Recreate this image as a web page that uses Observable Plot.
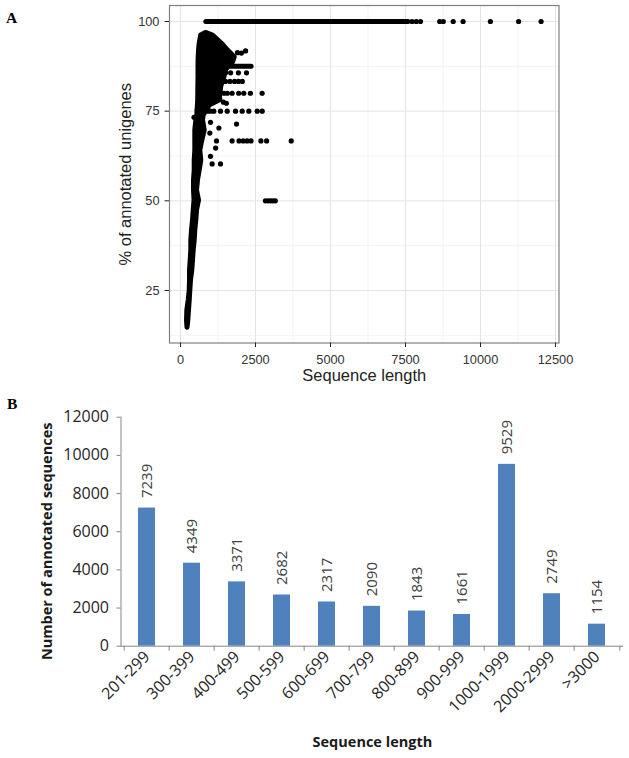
<!DOCTYPE html>
<html><head><meta charset="utf-8">
<script src="https://cdn.jsdelivr.net/npm/d3@7"></script>
<script src="https://cdn.jsdelivr.net/npm/@observablehq/plot@0.6"></script>
<style>
body{margin:0;background:#fff;}
#wrap{position:relative;width:629px;height:758px;overflow:hidden;}
#wrap svg{display:block;}
.tag{position:absolute;font-family:"Liberation Serif","Times New Roman",serif;font-weight:bold;font-size:15.5px;line-height:1;color:#000;}
</style></head><body>
<div id="wrap">
<div id="a"></div><div id="b"></div>
<span class="tag" style="left:6px;top:10px">A</span>
<span class="tag" style="left:7px;top:396px">B</span>
</div>
<script>
// ---------- Panel A data ----------
// dense cloud of overlapping points: outline at each % level (left / right point centres)
const bandY     = [96.8, 96.1, 93.8, 91.9, 90.0, 88.6, 86.6, 84.7, 81.9, 78.0, 76.6, 73.8, 72.4, 69.6, 66.8, 64.0, 61.2, 58.5, 55.7, 52.9, 50.1, 47.3, 44.5, 41.7, 38.9, 36.2, 33.4, 30.6, 27.8, 25.0, 22.2, 19.4, 16.6, 14.6];
const bandLeft  = [850, 690, 640, 617, 607, 600, 600, 600, 595, 590, 580, 560, 527, 493, 493, 493, 473, 473, 450, 450, 467, 440, 417, 383, 360, 360, 340, 317, 317, 307, 273, 227, 217, 233];
const bandRight = [850, 1083, 1383, 1583, 1807, 1750, 1530, 1470, 1360, 1300, 970, 773, 750, 807, 727, 660, 693, 640, 583, 550, 617, 550, 527, 493, 473, 440, 417, 393, 350, 327, 307, 283, 260, 233];
// unbroken rows of points
const runY  = [100, 87.5];
const runX1 = [860, 620];
const runX2 = [7600, 2370];
// separate points, grouped by % level
const dotRowY = [100, 91.8, 91.3, 91.2, 85.7, 83.3, 80, 78.4, 77.5, 77.2, 75.4, 75, 73.3, 71.9, 71.4, 70.3, 68.9, 66.7, 64.7, 62.4, 60.3, 50];
const dotRowX = [
  [7720, 7860, 8000, 8640, 8760, 9090, 9420, 10330, 11270, 12020],
  [2170], [1900], [2030],
  [1500, 1670, 1930, 2200],
  [1500, 1650, 1800, 1930, 2060],
  [1450, 1560, 1720, 1940, 2110, 2330, 2720],
  [1310], [1430], [1530],
  [560],
  [900, 1000, 1110, 1333, 1557, 1833, 2057, 2277, 2557, 2723],
  [450],
  [1000],
  [1867],
  [1280],
  [977],
  [1200, 1720, 1950, 2090, 2220, 2350, 2680, 2870, 3690],
  [1170],
  [1000],
  [1055, 1333],
  [2830, 2920, 3000, 3080, 3160]
];
const xTicksA = [0, 2500, 5000, 7500, 10000, 12500];
const yTicksA = [25, 50, 75, 100];
const xMinorA = [1250, 3750, 6250, 8750, 11250];
const yMinorA = [12.5, 37.5, 62.5, 87.5];
const xTitleA = "Sequence length";
const yTitleA = "% of annotated unigenes";

// ---------- Panel B data ----------
const categories = ["201-299", "300-399", "400-499", "500-599", "600-699", "700-799", "800-899", "900-999", "1000-1999", "2000-2999", ">3000"];
const counts = [7239, 4349, 3371, 2682, 2317, 2090, 1843, 1661, 9529, 2749, 1154];
const yTicksB = [0, 2000, 4000, 6000, 8000, 10000, 12000];
const xTitleB = "Sequence length";
const yTitleB = "Number of annotated sequences";

// ---------- tables ----------
const band = bandY.map((y, i) => ({y, l: bandLeft[i], r: bandRight[i]}));
const runs = runY.map((y, i) => ({y, x1: runX1[i], x2: runX2[i]}));
const dots = dotRowY.flatMap((y, i) => dotRowX[i].map(x => ({x, y})));
const bars = categories.map((c, i) => ({cat: c, n: counts[i]}));

const fontA = "'Liberation Sans', Arial, sans-serif";
const A = Plot.plot({
  width: 629, height: 385,
  marginLeft: 169, marginRight: 70.5, marginTop: 5, marginBottom: 42.5,
  style: {fontFamily: fontA, background: "#fff", color: "#333"},
  x: {domain: [-367, 12617], label: null},
  y: {domain: [10.36, 104.46], label: null},
  marks: [
    Plot.gridX(xMinorA, {stroke: "#f3f3f3", strokeOpacity: 1}),
    Plot.gridY(yMinorA, {stroke: "#f3f3f3", strokeOpacity: 1}),
    Plot.gridX(xTicksA, {stroke: "#e3e3e3", strokeOpacity: 1}),
    Plot.gridY(yTicksA, {stroke: "#e3e3e3", strokeOpacity: 1}),
    Plot.areaX(band, {y: "y", x1: "l", x2: "r", fill: "#000", stroke: "#000", strokeWidth: 5, strokeLinejoin: "round"}),
    Plot.ruleY(runs, {y: "y", x1: "x1", x2: "x2", stroke: "#000", strokeWidth: 5, strokeLinecap: "round"}),
    Plot.dot(dots, {x: "x", y: "y", r: 2.6, fill: "#000", stroke: null}),
    Plot.frame({stroke: "#7f7f7f", strokeWidth: 1.2}),
    Plot.axisX({ticks: xTicksA, tickSize: 4.5, tickPadding: 7, tickFormat: d => String(d), fontSize: 12.8, stroke: "#222", fill: "#333", label: null}),
    Plot.axisY({ticks: yTicksA, tickSize: 4.5, tickPadding: 5.5, tickFormat: d => String(d), fontSize: 12.8, stroke: "#222", fill: "#333", label: null}),
    Plot.text([xTitleA], {frameAnchor: "bottom", dy: 33, lineAnchor: "middle", fontSize: 16.5, fill: "#222"}),
    Plot.text([yTitleA], {frameAnchor: "left", dx: -44, rotate: -90, textAnchor: "middle", lineAnchor: "middle", fontSize: 16.5, fill: "#222"})
  ]
});
document.getElementById("a").append(A);

const fontB = "'Open Sans', sans-serif";
const step = (629 - 120.5 - 5.7) / categories.length;
const B = Plot.plot({
  width: 629, height: 373,
  marginLeft: 120.5, marginRight: 5.7, marginTop: 31.7, marginBottom: 112.3,
  style: {fontFamily: fontB, background: "#fff"},
  x: {domain: categories, paddingInner: 0.62, paddingOuter: 0.31, label: null},
  y: {domain: [0, 12000], label: null},
  marks: [
    Plot.barY(bars, {x: "cat", y: "n", fill: "#4F81BD"}),
    Plot.ruleY([0], {stroke: "#868686"}),
    Plot.frame({anchor: "left", stroke: "#868686"}),
    Plot.axisX({tickSize: 5, tickFormat: () => "", dx: -step / 2, stroke: "#868686", label: null}),
    Plot.axisX({ticks: [categories[categories.length - 1]], tickSize: 5, tickFormat: () => "", dx: step / 2, stroke: "#868686", label: null}),
    Plot.axisX({tickSize: 0, tickRotate: -45, tickPadding: 8, fontSize: 16, fill: "#262626", label: null}),
    Plot.axisY({ticks: yTicksB, tickSize: 4, tickPadding: 8, tickFormat: d => String(d), fontSize: 16, stroke: "#868686", fill: "#262626", label: null}),
    Plot.text(bars, {x: "cat", y: "n", text: d => String(d.n), rotate: -90, textAnchor: "start", dy: -10, fontSize: 15, fill: "#404040"}),
    Plot.text([xTitleB], {frameAnchor: "bottom", dy: 96, lineAnchor: "middle", fontSize: 14.5, fontWeight: "bold", fill: "#1a1a1a"}),
    Plot.text([yTitleB], {frameAnchor: "left", dx: -73.5, dy: 9.6, rotate: -90, textAnchor: "middle", lineAnchor: "middle", fontSize: 14.5, fontWeight: "bold", fill: "#1a1a1a"})
  ]
});
document.getElementById("b").append(B);
</script>
</body></html>
